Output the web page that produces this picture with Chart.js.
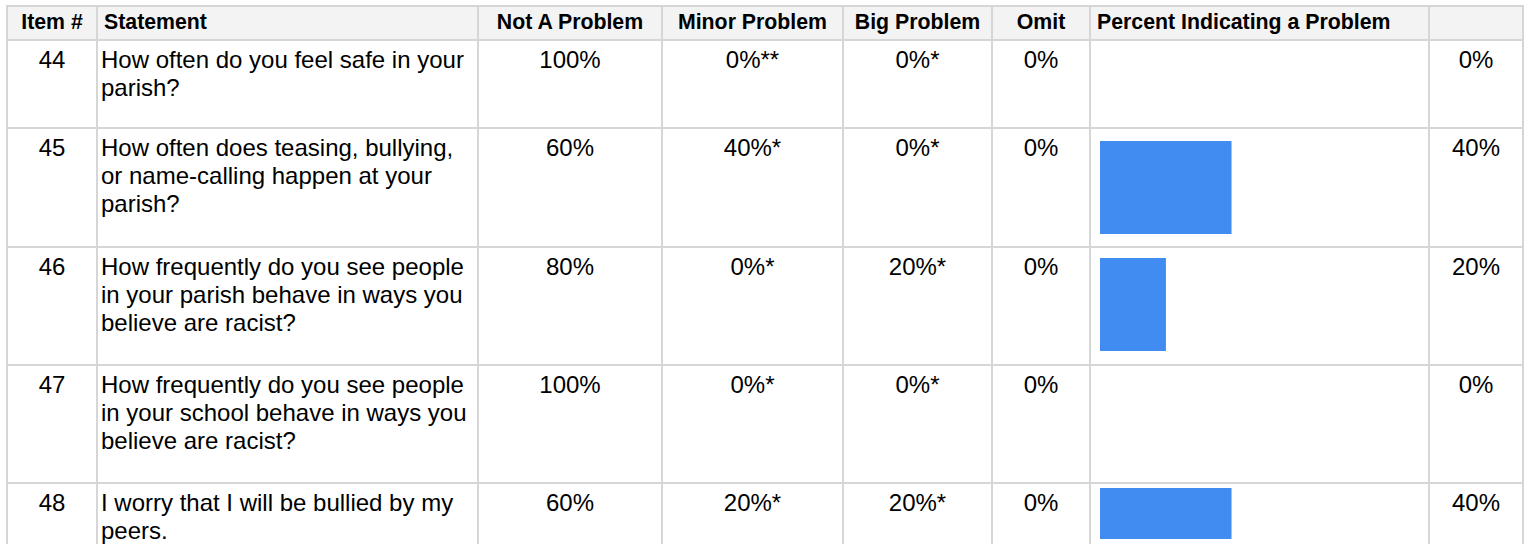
<!DOCTYPE html>
<html>
<head>
<meta charset="utf-8">
<script src="https://cdn.jsdelivr.net/npm/chart.js@4"></script>
<style>
    body { margin: 0; background: #fff; font-family: "Liberation Sans", Arial, sans-serif; color: #000; }
    table { position: absolute; left: 6px; top: 5px; border-collapse: collapse; table-layout: fixed; }
    th, td { border: 2px solid #d6d6d6; vertical-align: top; overflow: hidden; }
    th { background: #f3f3f3; font-size: 21.3px; font-weight: bold; padding: 3px 6px; height: 26px; text-align: center; }
    th.left { text-align: left; }
    td { font-size: 24px; line-height: normal; padding: 5px 3px 0 3px; text-align: center; }
    td.statement { text-align: left; }
    td.barcell { position: relative; padding: 0; }
    td.barcell canvas { position: absolute; left: 9px; top: 12px; }
    tr.r1 td { height: 81px; }
    tr.r2 td { height: 112px; }
    tr.r3 td, tr.r4 td { height: 111px; }
    tr.r5 td { height: 100px; }
    tr.r3 td.barcell canvas { top: 10px; }
    tr.r5 td.barcell canvas { top: 4px; }
</style>
</head>
<body>
<table id="tbl">
    <colgroup>
        <col style="width:90px"><col style="width:381px"><col style="width:184px"><col style="width:181px">
        <col style="width:149px"><col style="width:98px"><col style="width:339px"><col style="width:94px">
    </colgroup>
    <thead>
        <tr>
            <th>Item #</th><th class="left">Statement</th><th>Not A Problem</th><th>Minor Problem</th>
            <th>Big Problem</th><th>Omit</th><th class="left">Percent Indicating a Problem</th><th></th>
        </tr>
    </thead>
    <tbody id="rows"></tbody>
</table>
<script>
// 表格数据
const items = ['44', '45', '46', '47', '48'];
const statements = [
    'How often do you feel safe in your parish?',
    'How often does teasing, bullying, or name-calling happen at your parish?',
    'How frequently do you see people in your parish behave in ways you believe are racist?',
    'How frequently do you see people in your school behave in ways you believe are racist?',
    'I worry that I will be bullied by my peers.'
];
const notAProblem = ['100%', '60%', '80%', '100%', '60%'];
const minorProblem = ['0%**', '40%*', '0%*', '0%*', '20%*'];
const bigProblem = ['0%*', '0%*', '20%*', '0%*', '20%*'];
const omit = ['0%', '0%', '0%', '0%', '0%'];
const percentProblem = [0, 40, 20, 0, 40];

// 生成表格行
const tbody = document.getElementById('rows');
items.forEach((item, i) => {
    const tr = document.createElement('tr');
    tr.className = 'r' + (i + 1);
    tr.innerHTML = `
        <td>${item}</td>
        <td class="statement">${statements[i]}</td>
        <td>${notAProblem[i]}</td>
        <td>${minorProblem[i]}</td>
        <td>${bigProblem[i]}</td>
        <td>${omit[i]}</td>
        <td class="barcell"><canvas width="328" height="${i === 4 ? 51 : 93}"></canvas></td>
        <td>${percentProblem[i]}%</td>
    `;
    tbody.appendChild(tr);
});

// 每行绘制条形图
document.querySelectorAll('td.barcell canvas').forEach((canvas, i) => {
    new Chart(canvas, {
        type: 'bar',
        data: {
            labels: [items[i]],
            datasets: [{
                data: [percentProblem[i]],
                // 0% 不画条
                backgroundColor: ctx => ctx.raw > 0 ? '#418cf0' : 'rgba(0,0,0,0)',
                borderWidth: 0,
                barPercentage: 1,
                categoryPercentage: 1
            }]
        },
        options: {
            indexAxis: 'y',
            responsive: false,
            animation: false,
            layout: { padding: 0 },
            plugins: {
                legend: { display: false },
                tooltip: { enabled: false }
            },
            scales: {
                x: { min: 0, max: 100, display: false },
                y: { display: false }
            }
        }
    });
});
</script>
</body>
</html>
